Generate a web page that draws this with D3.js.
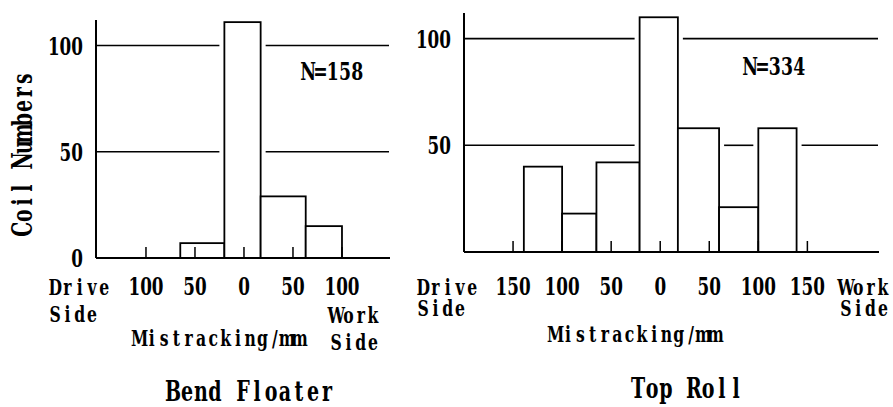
<!DOCTYPE html>
<html>
<head>
<meta charset="utf-8">
<script src="https://cdn.jsdelivr.net/npm/d3@7"></script>
<style>
  body { margin: 0; background: #fff; }
  svg text { font-family: "DejaVu Serif", "Liberation Serif", serif; font-weight: bold; fill: #000; }
</style>
</head>
<body>
<svg width="893" height="407"></svg>
<script>
/**
 * Data (mistracking in mm, counts of coils)
 */
var bendBinStart = [-65, -20, 17, 63];
var bendBinEnd   = [-20, 17, 63, 100];
var bendCounts   = [7, 111, 29, 15];

var topBinStart = [-139, -100, -65, -21, 18, 60, 100];
var topBinEnd   = [-100, -65, -21, 18, 60, 100, 139];
var topCounts   = [40, 18, 42, 110, 58, 21, 58];

var bendTicks   = [-100, -50, 0, 50, 100];
var topTicks    = [-150, -100, -50, 0, 50, 100, 150];
var bendYLabels = [0, 50, 100];
var topYLabels  = [50, 100];
var gridValues  = [50, 100];

var bendN = 158, topN = 334;

/**
 * svg set up
 */
var svg = d3.select("svg");

// text helper: each glyph sits centred in a fixed cell (half-width type look),
// squeezed horizontally by sx. s can be a list of lines (opt.gap apart).
function label(g, x, y, s, opt) {
  opt = opt || {};
  var adv = opt.adv || 12.3,
      sx = opt.sx || 0.68,
      anchor = opt.anchor || "start",
      lines = Array.isArray(s) ? s : [s];
  var t = g.append("text")
      .attr("transform", "translate(" + x + "," + y + ")" + (opt.rot ? " rotate(" + opt.rot + ")" : "") + " scale(" + sx + ",1)")
      .attr("font-size", opt.fs || 23)
      .attr("text-anchor", "middle");
  lines.forEach(function(line, k) {
    var w = line.length * adv;
    var start = anchor === "middle" ? -w / 2 : anchor === "end" ? -w : 0;
    var xs = d3.range(line.length).map(function(i) { return ((start + (i + 0.5) * adv) / sx).toFixed(2); });
    t.append("tspan")
      .attr("x", xs.join(" "))
      .attr("y", k * (opt.gap || 0))
      .text(line);
  });
  return t;
}

// gridline pieces, broken where a tall bar (or group of bars) crosses
function gridSegments(v, bars, x, pad, x0, x1) {
  var cuts = [];
  bars.forEach(function(b) {
    if (b.n < v) return;
    var a = x(b.x0), c = x(b.x1);
    var last = cuts[cuts.length - 1];
    if (last && Math.abs(last[1] - a) < 2) last[1] = c;
    else cuts.push([a, c]);
  });
  var segs = [], start = x0;
  cuts.forEach(function(c) { segs.push([start, c[0] - pad]); start = c[1] + pad; });
  segs.push([start, x1]);
  return segs;
}

/**
 * drawing function for one panel
 */
function panel(cfg) {
  var bars = cfg.starts.map(function(s, i) { return { x0: s, x1: cfg.ends[i], n: cfg.counts[i] }; });

  var x = d3.scaleLinear().domain(cfg.xDomain).range([cfg.left, cfg.right]);
  var y = d3.scaleLinear().domain([0, 112]).range([cfg.base, cfg.top]);

  var g = svg.append("g");

  // ### gridlines
  gridValues.forEach(function(v) {
    g.append("g").selectAll("line")
      .data(gridSegments(v, bars, x, 5, cfg.left, cfg.right - 1))
      .enter().append("line")
        .attr("x1", function(d) { return d[0]; })
        .attr("x2", function(d) { return d[1]; })
        .attr("y1", y(v)).attr("y2", y(v))
        .attr("stroke", "#000").attr("stroke-width", 1.6);
  });

  // ### bars
  g.append("g").selectAll("rect")
    .data(bars)
    .enter().append("rect")
      .attr("x", function(d) { return x(d.x0); })
      .attr("y", function(d) { return y(d.n); })
      .attr("width", function(d) { return x(d.x1) - x(d.x0); })
      .attr("height", function(d) { return y(0) - y(d.n); })
      .attr("fill", "#fff")
      .attr("stroke", "#000")
      .attr("stroke-width", 1.8);

  // ### small ticks on the baseline
  g.append("g").selectAll("line")
    .data(cfg.ticks)
    .enter().append("line")
      .attr("x1", function(d) { return x(d); })
      .attr("x2", function(d) { return x(d); })
      .attr("y1", y(0)).attr("y2", y(0) - 11)
      .attr("stroke", "#000").attr("stroke-width", 1.5);

  // ### axes
  g.append("line")
    .attr("x1", cfg.left).attr("x2", cfg.left)
    .attr("y1", y(0)).attr("y2", cfg.top)
    .attr("stroke", "#000").attr("stroke-width", 2);
  g.append("line")
    .attr("x1", cfg.left).attr("x2", cfg.right)
    .attr("y1", y(0)).attr("y2", y(0))
    .attr("stroke", "#000").attr("stroke-width", 2);

  // ### y labels
  cfg.yLabels.forEach(function(v) {
    label(g, cfg.left - 13, y(v) + 9, String(v), { anchor: "end", adv: 11.7, sx: 0.7, fs: 24 });
  });

  // ### x tick labels
  cfg.ticks.forEach(function(t) {
    label(g, x(t), 295, String(Math.abs(t)), { anchor: "middle", adv: 11.7, sx: 0.7, fs: 24 });
  });

  label(g, cfg.left - 47, 295, ["Drive", "Side"], { gap: cfg.driveGap });
  label(g, cfg.workX, cfg.workY, ["Work", "Side"], { anchor: cfg.workAnchor, gap: cfg.workGap });

  label(g, x(-25), cfg.mistY, "Mistracking/mm", { anchor: "middle" });
  label(g, cfg.nX, cfg.nY, "N=" + cfg.n, { adv: 12.3, sx: 0.72, fs: 24 });
  label(g, cfg.titleX, cfg.titleY, cfg.title, { anchor: "middle", fs: 28, adv: 14, sx: 0.68 });
}

panel({
  starts: bendBinStart, ends: bendBinEnd, counts: bendCounts,
  ticks: bendTicks, yLabels: bendYLabels, n: bendN,
  xDomain: [-151, 149], left: 96, right: 390, base: 258, top: 20,
  driveGap: 27, workX: 330, workY: 323, workGap: 27, workAnchor: "start",
  mistY: 346, nX: 302, nY: 80, title: "Bend Floater", titleX: 250, titleY: 401
});

panel({
  starts: topBinStart, ends: topBinEnd, counts: topCounts,
  ticks: topTicks, yLabels: topYLabels, n: topN,
  xDomain: [-200, 223], left: 464, right: 879, base: 252, top: 13,
  driveGap: 21, workX: 889, workY: 295, workGap: 21, workAnchor: "end",
  mistY: 342, nX: 744, nY: 75, title: "Top Roll", titleX: 687, titleY: 398
});

// rotated y title of the left panel
label(svg, 32, 154, "Coil Numbers", { anchor: "middle", rot: -90, fs: 27, adv: 13.7, sx: 0.7 });
</script>
</body>
</html>
